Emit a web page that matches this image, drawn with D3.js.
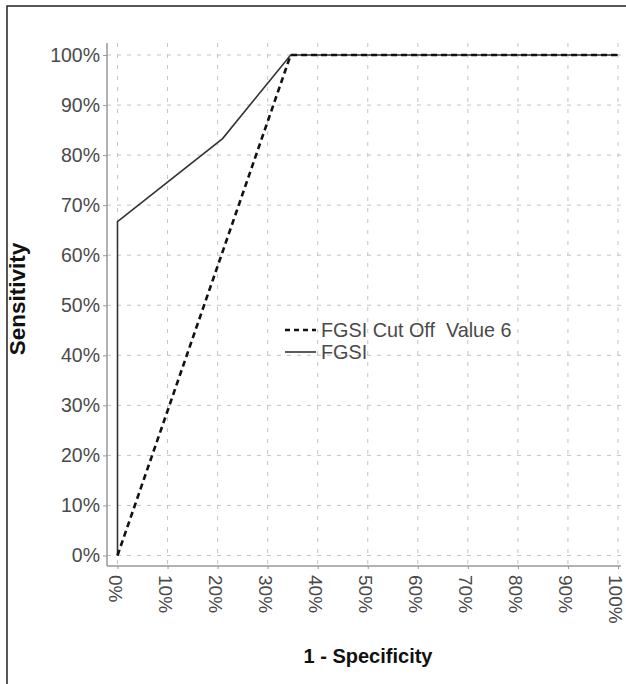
<!DOCTYPE html>
<html><head><meta charset="utf-8">
<script src="https://cdn.jsdelivr.net/npm/d3@7"></script>
<style>body{margin:0;background:#fff}svg{display:block}</style>
</head><body>
<script>
const xTicks = [0,0.1,0.2,0.3,0.4,0.5,0.6,0.7,0.8,0.9,1.0];
const yTicks = [0,0.1,0.2,0.3,0.4,0.5,0.6,0.7,0.8,0.9,1.0];
const cutoffX = [0, 0.346, 1.0];
const cutoffY = [0, 1.0, 1.0];
const fgsiX = [0, 0, 0.21, 0.346, 1.0];
const fgsiY = [0, 0.667, 0.833, 1.0, 1.0];
const seriesNames = ["FGSI Cut Off  Value 6", "FGSI"];

const W = 626, H = 684;
const svg = d3.select("body").append("svg").attr("width", W).attr("height", H);
const font = "'Liberation Sans', Arial, sans-serif";

svg.append("rect").attr("x", 7).attr("y", 6).attr("width", 640).attr("height", 700)
  .attr("fill", "none").attr("stroke", "#222").attr("stroke-width", 1.5);

const x = d3.scaleLinear().domain([0, 1]).range([117.5, 618]);
const y = d3.scaleLinear().domain([0, 1]).range([555.5, 55]);
const plotL = 107, plotR = 621, plotT = 43, plotB = 566;

const grid = svg.append("g");
grid.selectAll("line.h").data(yTicks).join("line")
  .attr("x1", plotL).attr("x2", plotR).attr("y1", d => y(d)).attr("y2", d => y(d))
  .attr("stroke", "#c4c4c4").attr("stroke-dasharray", "4,6");
grid.selectAll("line.v").data(xTicks).join("line")
  .attr("y1", plotT).attr("y2", plotB).attr("x1", d => x(d)).attr("x2", d => x(d))
  .attr("stroke", "#c4c4c4").attr("stroke-dasharray", "4,7");

const yAxis = svg.append("g").attr("transform", `translate(${plotL},0)`)
  .call(d3.axisLeft(y).tickValues(yTicks).tickFormat(d3.format(".0%")).tickSize(4).tickPadding(3));
yAxis.select(".domain").remove();
yAxis.append("line").attr("x1", 0).attr("x2", 0).attr("y1", plotT).attr("y2", plotB).attr("stroke", "#999").attr("stroke-width", 1.5);
yAxis.selectAll(".tick line").attr("stroke", "#999");
yAxis.selectAll(".tick text").attr("font-family", font).attr("font-size", 19.5).attr("fill", "#4a4a4a");

const xAxis = svg.append("g").attr("transform", `translate(0,${plotB})`)
  .call(d3.axisBottom(x).tickValues(xTicks).tickFormat(d3.format(".0%")).tickSize(3));
xAxis.select(".domain").remove();
xAxis.append("line").attr("x1", plotL).attr("x2", plotR).attr("y1", 0).attr("y2", 0).attr("stroke", "#999").attr("stroke-width", 1.5);
xAxis.selectAll(".tick line").attr("stroke", "#999");
xAxis.selectAll(".tick text").attr("font-family", font).attr("font-size", 19).attr("fill", "#4a4a4a")
  .attr("transform", "rotate(90)").attr("text-anchor", "start").attr("dy", "0.5em").attr("x", 9).attr("y", 0);

const line = d3.line().x(d => x(d[0])).y(d => y(d[1]));
const fgsiPts = fgsiX.map((v, i) => [v, fgsiY[i]]);
const cutPts = cutoffX.map((v, i) => [v, cutoffY[i]]);
svg.append("path").attr("d", line(fgsiPts)).attr("fill", "none").attr("stroke", "#333").attr("stroke-width", 1.6);
svg.append("path").attr("d", line(cutPts)).attr("fill", "none").attr("stroke", "#111").attr("stroke-width", 2.6).attr("stroke-dasharray", "6,4");

const leg = svg.append("g");
const rows = [{y: 330, dash: "5,4", w: 2.6, c: "#111"}, {y: 352, dash: null, w: 1.6, c: "#333"}];
rows.forEach((r, i) => {
  leg.append("line").attr("x1", 285).attr("x2", 316).attr("y1", r.y).attr("y2", r.y)
    .attr("stroke", r.c).attr("stroke-width", r.w).attr("stroke-dasharray", r.dash);
  leg.append("text").attr("x", 321).attr("y", r.y).attr("dy", "0.35em")
    .attr("font-family", font).attr("font-size", 19.8).attr("fill", "#4a4a4a")
    .style("white-space", "pre").text(seriesNames[i]);
});

svg.append("text").attr("x", 368).attr("y", 663).attr("text-anchor", "middle")
  .attr("font-family", font).attr("font-size", 20).attr("font-weight", "bold").attr("fill", "#111")
  .text("1 - Specificity");
svg.append("text").attr("transform", "translate(25,299) rotate(-90)").attr("text-anchor", "middle")
  .attr("font-family", font).attr("font-size", 22.5).attr("font-weight", "bold").attr("fill", "#111")
  .text("Sensitivity");
</script>
</body></html>
